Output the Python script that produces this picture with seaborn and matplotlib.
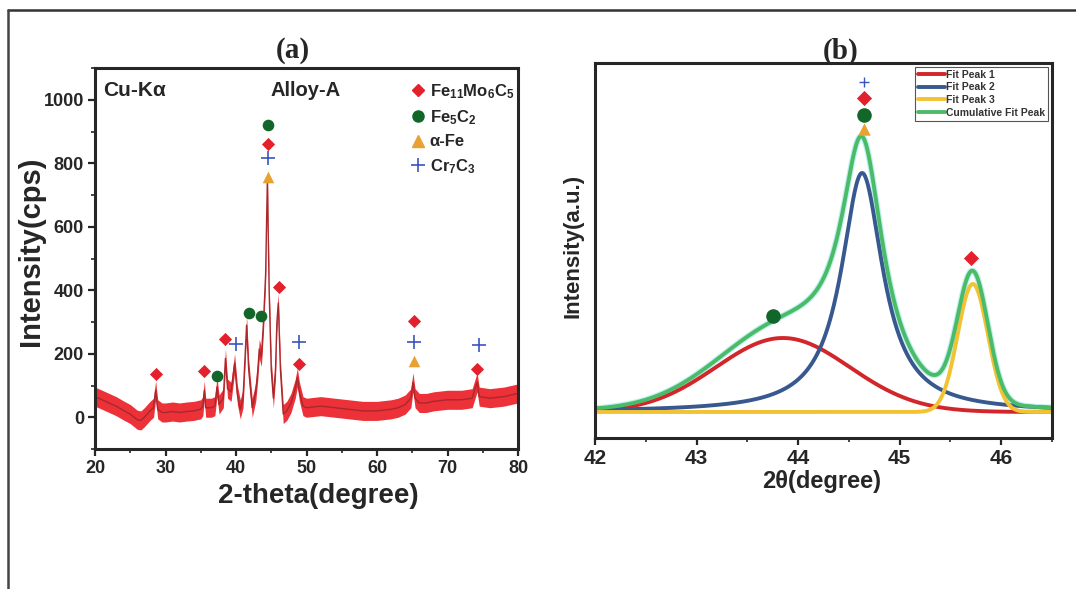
import numpy as np
import matplotlib
matplotlib.use("Agg")
import matplotlib.pyplot as plt
from matplotlib.lines import Line2D
from matplotlib.ticker import MultipleLocator
import seaborn as sns

# ---------------- panel (a) data: XRD pattern of Alloy-A ----------------
xrd_two_theta = [20, 21, 22, 23, 24, 25, 26, 26.5, 27, 27.8, 28.3, 28.6, 28.9, 29.5,
                 30, 31, 32, 33, 34, 35, 35.3, 35.5, 35.7, 36.5, 37.0, 37.3, 37.6,
                 38.2, 38.5, 38.8, 39.3, 39.8, 40.2, 40.6, 41.0, 41.5, 41.8, 42.3,
                 42.8, 43.1, 43.3, 43.6, 43.9, 44.2, 44.45, 44.7, 45.0, 45.3, 45.6,
                 45.8, 46.0, 46.3, 46.7, 47.2, 47.8, 48.4, 48.7, 49.0, 49.5, 50, 52,
                 54, 56, 58, 60, 62, 63, 64, 64.8, 65.1, 65.4, 66, 67, 68, 70, 72,
                 73.5, 74.2, 74.5, 76, 78, 80]
xrd_intensity = [65, 55, 45, 35, 22, 10, -8, -10, 0, 20, 30, 85, 25, 15,
                 15, 18, 15, 18, 20, 25, 35, 85, 30, 30, 35, 95, 40,
                 60, 185, 90, 80, 170, 70, 25, 60, 290, 150, 30,
                 80, 150, 215, 190, 300, 450, 750, 400, 150, 60, 150,
                 300, 360, 150, 10, 20, 45, 90, 125, 80, 35, 30, 35,
                 30, 25, 20, 20, 25, 30, 40, 60, 110, 60, 45, 45, 50, 55, 55,
                 60, 110, 65, 60, 65, 75]
noise_halfwidth = 30

phase_labels = ["Fe$_{11}$Mo$_6$C$_5$", "Fe$_5$C$_2$", "\u03b1-Fe", "Cr$_7$C$_3$"]
fe11_x = [28.7, 35.5, 38.5, 44.5, 46.1, 48.9, 65.2, 74.2]
fe11_y = [135, 145, 247, 862, 411, 168, 302, 152]
fe5c2_x = [37.35, 41.8, 43.5, 44.5]
fe5c2_y = [130, 329, 318, 920]
afe_x = [44.5, 65.2]
afe_y = [757, 178]
cr7c3_x = [39.95, 44.5, 48.9, 65.2, 74.4]
cr7c3_y = [230, 815, 238, 238, 229]

# ---------------- panel (b) data: peak fit of main reflection ----------------
fit_labels = ["Fit Peak 1", "Fit Peak 2", "Fit Peak 3", "Cumulative Fit Peak"]
fit_centers = [43.85, 44.63, 45.72]
fit_heights = [74, 239, 128]
fit_fwhm = [1.55, 0.50, 0.35]
fit_shapes = ["gauss", "lorentz", "gauss"]

b_fe11_x = [44.65, 45.70]
b_fe11_y = [314, 154]
b_fe5c2_x = [44.65, 43.75]
b_fe5c2_y = [297, 96]
b_afe_x = [44.65]
b_afe_y = [283]
b_cr7c3_x = [44.65]
b_cr7c3_y = [330]

# ---------------- styling ----------------
sns.set_style("ticks")
plt.rcParams["font.family"] = ["Liberation Sans", "DejaVu Sans"]
plt.rcParams["font.weight"] = "bold"
plt.rcParams["mathtext.default"] = "regular"

C_RED = "#e3202b"
C_GREEN = "#12662a"
C_ORANGE = "#e8a232"
C_BLUE = "#3a55c0"

fig = plt.figure(figsize=(10.76, 5.89), dpi=100)
W, H = 1076, 589

def axes_rect(x0, y0, x1, y1):
    return [x0 / W, 1 - y1 / H, (x1 - x0) / W, (y1 - y0) / H]

# ---------------- panel (a) ----------------
ax1 = fig.add_axes(axes_rect(95, 68, 518, 449))
tt = np.array(xrd_two_theta, dtype=float)
ii = np.array(xrd_intensity, dtype=float)
ax1.fill_between(tt, ii - noise_halfwidth, ii + noise_halfwidth, color="#ea1a22",
                 alpha=0.9, lw=0)
sns.lineplot(x=tt, y=ii, ax=ax1, color="#a8282c", lw=1.0, sort=False)

mk = dict(s=70, zorder=5, linewidth=0)
sns.scatterplot(x=fe11_x, y=fe11_y, ax=ax1, marker="D", color=C_RED, s=45, zorder=5, linewidth=0)
sns.scatterplot(x=fe5c2_x, y=fe5c2_y, ax=ax1, marker="o", color=C_GREEN, **mk)
sns.scatterplot(x=afe_x, y=afe_y, ax=ax1, marker="^", color=C_ORANGE, **mk)
ax1.scatter(cr7c3_x, cr7c3_y, marker="+", color=C_BLUE, s=110, linewidths=1.2, zorder=5)

ax1.set_xlim(20, 80)
ax1.set_ylim(-100, 1100)
ax1.xaxis.set_major_locator(MultipleLocator(10))
ax1.xaxis.set_minor_locator(MultipleLocator(5))
ax1.yaxis.set_major_locator(MultipleLocator(200))
ax1.yaxis.set_minor_locator(MultipleLocator(100))
ax1.set_yticks([0, 200, 400, 600, 800, 1000])
ax1.tick_params(which="major", direction="out", length=5, width=1.6, labelsize=13, pad=3)
ax1.tick_params(which="minor", direction="out", length=3, width=1.2)
for lab in ax1.get_xticklabels() + ax1.get_yticklabels():
    lab.set_fontweight("bold")
for sp in ax1.spines.values():
    sp.set_linewidth(2.2)
    sp.set_visible(True)
ax1.set_xlabel("2-theta(degree)", fontsize=20, fontweight="bold")
ax1.set_ylabel("Intensity(cps)", fontsize=21, fontweight="bold")
ax1.xaxis.set_label_coords(0.528, -0.088)
ax1.yaxis.set_label_coords(-0.118, 0.52)

ax1.text(0.02, 0.965, "Cu-K\u03b1", transform=ax1.transAxes, fontsize=15,
         fontweight="bold", va="top", ha="left")
ax1.text(0.415, 0.965, "Alloy-A", transform=ax1.transAxes, fontsize=14.5,
         fontweight="bold", va="top", ha="left")

leg_handles = [
    Line2D([], [], ls="", marker="D", color=C_RED, markersize=6),
    Line2D([], [], ls="", marker="o", color=C_GREEN, markersize=8),
    Line2D([], [], ls="", marker="^", color=C_ORANGE, markersize=8),
    Line2D([], [], ls="", marker="+", color=C_BLUE, markersize=10, markeredgewidth=1.2),
]
leg1 = ax1.legend(leg_handles, phase_labels, loc="upper right", frameon=False,
                  fontsize=12, handlelength=0.8, handletextpad=0.3,
                  labelspacing=0.45, borderaxespad=0.1,
                  bbox_to_anchor=(1.01, 0.985))
for t in leg1.get_texts():
    t.set_fontweight("bold")

# ---------------- panel (b) ----------------
ax2 = fig.add_axes(axes_rect(595, 63, 1052, 438))
grid = np.linspace(42, 46.5, 900)
fit_colors = ["#d2262b", "#37598f", "#f2c233", "#4cbb68"]
profiles = []
for c, h, w, shp in zip(fit_centers, fit_heights, fit_fwhm, fit_shapes):
    if shp == "gauss":
        p = h * np.exp(-4 * np.log(2) * ((grid - c) / w) ** 2)
    else:
        p = h / (1 + ((grid - c) / (w / 2)) ** 2)
    profiles.append(p)
cumulative = np.sum(profiles, axis=0)

for p, col, lab in zip(profiles, fit_colors[:3], fit_labels[:3]):
    sns.lineplot(x=grid, y=p, ax=ax2, color=col, lw=2.8, label=lab)
ax2.plot(grid, cumulative, color="#bff0f0", lw=4.5, zorder=1.5)
sns.lineplot(x=grid, y=cumulative, ax=ax2, color=fit_colors[3], lw=2.8,
             label=fit_labels[3])

ax2.scatter(b_afe_x, b_afe_y, marker="^", color=C_ORANGE, s=80, zorder=4, linewidths=0)
ax2.scatter(b_fe5c2_x, b_fe5c2_y, marker="o", color=C_GREEN, s=110, zorder=5, linewidths=0)
ax2.scatter(b_fe11_x, b_fe11_y, marker="D", color=C_RED, s=60, zorder=5, linewidths=0)
ax2.scatter(b_cr7c3_x, b_cr7c3_y, marker="+", color=C_BLUE, s=60, linewidths=1.0, zorder=5)

ax2.set_xlim(42, 46.5)
ax2.set_ylim(-26, 349)
ax2.xaxis.set_major_locator(MultipleLocator(1))
ax2.xaxis.set_minor_locator(MultipleLocator(0.5))
ax2.set_yticks([])
ax2.tick_params(axis="x", which="major", direction="out", length=5, width=1.6,
                labelsize=15, pad=3)
ax2.tick_params(axis="x", which="minor", direction="out", length=3, width=1.2)
for lab in ax2.get_xticklabels():
    lab.set_fontweight("bold")
for sp in ax2.spines.values():
    sp.set_linewidth(2.2)
    sp.set_visible(True)
ax2.set_xlabel("2\u03b8(degree)", fontsize=17, fontweight="bold")
ax2.set_ylabel("Intensity(a.u.)", fontsize=16, fontweight="bold")
ax2.xaxis.set_label_coords(0.495, -0.085)
ax2.yaxis.set_label_coords(-0.026, 0.512)

leg2 = ax2.legend(loc="upper right", fontsize=7.5, frameon=True, fancybox=False,
                  edgecolor="#555555", framealpha=1, handlelength=2.6,
                  handletextpad=0.1, labelspacing=0.25, borderpad=0.3,
                  borderaxespad=0.35)
leg2.get_frame().set_linewidth(0.8)
for t in leg2.get_texts():
    t.set_fontweight("bold")
    t.set_color("#333333")

# ---------------- titles and outer frame ----------------
fig.text(293 / W, 1 - 50 / H, "(a)", fontsize=21, fontweight="bold",
         family=["Liberation Serif", "DejaVu Serif"], ha="center", va="center")
fig.text(841 / W, 1 - 51 / H, "(b)", fontsize=21, fontweight="bold",
         family=["Liberation Serif", "DejaVu Serif"], ha="center", va="center")
fig.add_artist(Line2D([8 / W, 1.0], [1 - 10 / H, 1 - 10 / H], color="#333333", lw=1.8))
fig.add_artist(Line2D([8 / W, 8 / W], [0, 1 - 10 / H], color="#444444", lw=1.8))

fig.savefig("out.png", dpi=100)
